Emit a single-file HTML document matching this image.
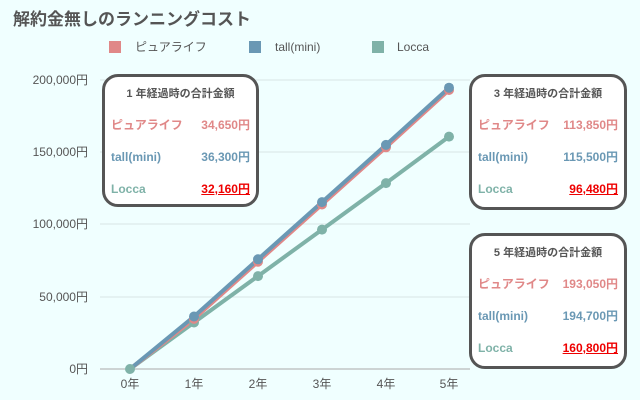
<!DOCTYPE html>
<html><head><meta charset="utf-8"><style>
body{margin:0;width:640px;height:400px;background:#f0ffff;font-family:"Liberation Sans","Noto Sans CJK JP",sans-serif;overflow:hidden;position:relative}
.t{position:absolute;left:13px;top:5px;font-size:17px;font-weight:bold;color:#555}
.box{position:absolute;background:#fff;border:3px solid #555;border-radius:16px;box-sizing:border-box;font-weight:bold;font-size:12px}
.box .h{position:absolute;left:0;right:0;top:10px;line-height:14px;text-align:center;color:#555;font-size:11px}
.r{position:absolute;left:6px;right:6px;display:flex;justify-content:space-between;align-items:center;height:16px;line-height:16px}
.p{color:#e08888}.m{color:#6a98b4}.l{color:#7fb2a8}.red{color:#e00;text-decoration:underline}
</style></head><body>
<div class="t">解約金無しのランニングコスト</div>
<svg width="640" height="400" style="position:absolute;left:0;top:0">
<g font-size="12" fill="#555">
<rect x="109" y="41" width="12" height="12" fill="#e08888"/><text x="135" y="51" font-family="Liberation Sans,Noto Sans CJK JP">ピュアライフ</text>
<rect x="249" y="41" width="12" height="12" fill="#6a98b4"/><text x="275" y="51">tall(mini)</text>
<rect x="372" y="41" width="12" height="12" fill="#7fb2a8"/><text x="397" y="51">Locca</text>
</g>
<g stroke="#d8e4e4" stroke-width="1">
<line x1="100" y1="80" x2="470" y2="80"/><line x1="100" y1="152" x2="470" y2="152"/><line x1="100" y1="224" x2="470" y2="224"/><line x1="100" y1="297" x2="470" y2="297"/>
</g>
<line x1="100" y1="369" x2="470" y2="369" stroke="#aaa"/>
<g font-size="12" fill="#555" text-anchor="end" font-family="Liberation Sans,Noto Sans CJK JP">
<text x="88" y="84">200,000円</text><text x="88" y="156">150,000円</text><text x="88" y="228">100,000円</text><text x="88" y="301">50,000円</text><text x="88" y="373">0円</text>
</g>
<g font-size="12" fill="#555" text-anchor="middle" font-family="Liberation Sans,Noto Sans CJK JP">
<text x="130" y="388">0年</text><text x="194" y="388">1年</text><text x="258" y="388">2年</text><text x="322" y="388">3年</text><text x="386" y="388">4年</text><text x="449" y="388">5年</text>
</g>
<polyline fill="none" stroke="#7fb2a8" stroke-width="4" points="130,369 194,322.5 258,276.1 322,229.6 386,183.1 449,136.6"/>
<polyline fill="none" stroke="#e08888" stroke-width="4" points="130,369 194,318.9 258,261.7 322,204.5 386,147.3 449,90"/>
<polyline fill="none" stroke="#6a98b4" stroke-width="4" points="130,369 194,316.5 258,259.3 322,202.1 386,144.9 449,87.7"/>
<g fill="#7fb2a8"><circle cx="130" cy="369" r="5"/><circle cx="194" cy="322.5" r="5"/><circle cx="258" cy="276.1" r="5"/><circle cx="322" cy="229.6" r="5"/><circle cx="386" cy="183.1" r="5"/><circle cx="449" cy="136.6" r="5"/></g>
<g fill="#e08888"><circle cx="194" cy="318.9" r="5"/><circle cx="258" cy="261.7" r="5"/><circle cx="322" cy="204.5" r="5"/><circle cx="386" cy="147.3" r="5"/><circle cx="449" cy="90" r="5"/></g>
<g fill="#6a98b4"><circle cx="194" cy="316.5" r="5"/><circle cx="258" cy="259.3" r="5"/><circle cx="322" cy="202.1" r="5"/><circle cx="386" cy="144.9" r="5"/><circle cx="449" cy="87.7" r="5"/></g>
</svg>
<div class="box" style="left:102px;top:74px;width:157px;height:133px">
<div class="h">1 年経過時の合計金額</div>
<div class="r" style="top:40px"><span class="p">ピュアライフ</span><span class="p">34,650円</span></div>
<div class="r" style="top:72px"><span class="m">tall(mini)</span><span class="m">36,300円</span></div>
<div class="r" style="top:104px"><span class="l">Locca</span><span class="red">32,160円</span></div>
</div>
<div class="box" style="left:469px;top:74px;width:158px;height:136px">
<div class="h">3 年経過時の合計金額</div>
<div class="r" style="top:40px"><span class="p">ピュアライフ</span><span class="p">113,850円</span></div>
<div class="r" style="top:72px"><span class="m">tall(mini)</span><span class="m">115,500円</span></div>
<div class="r" style="top:104px"><span class="l">Locca</span><span class="red">96,480円</span></div>
</div>
<div class="box" style="left:469px;top:233px;width:158px;height:136px">
<div class="h">5 年経過時の合計金額</div>
<div class="r" style="top:40px"><span class="p">ピュアライフ</span><span class="p">193,050円</span></div>
<div class="r" style="top:72px"><span class="m">tall(mini)</span><span class="m">194,700円</span></div>
<div class="r" style="top:104px"><span class="l">Locca</span><span class="red">160,800円</span></div>
</div>
</body></html>
